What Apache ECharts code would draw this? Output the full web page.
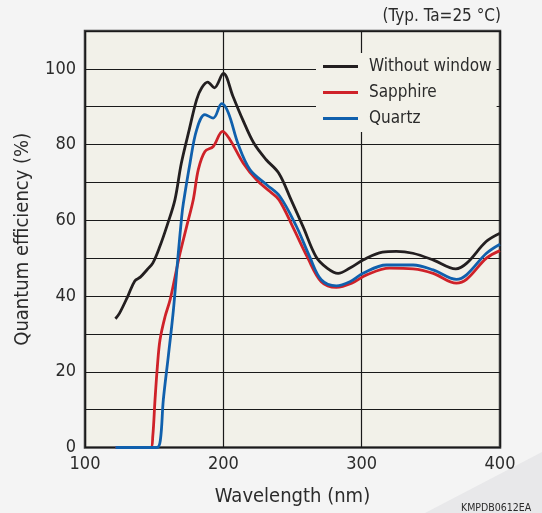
<!DOCTYPE html>
<html>
<head>
<meta charset="utf-8">
<script src="https://cdn.jsdelivr.net/npm/echarts@6/dist/echarts.min.js"></script>
<style>
html,body{margin:0;padding:0;background:#f4f4f4;}
#chart{width:542px;height:513px;}
</style>
</head>
<body>
<div id="chart"></div>
<script>
// ---- data ----
const seriesNames = ['Without window', 'Sapphire', 'Quartz'];
const xTicks = [100, 200, 300, 400];
const yTickLabels = [0, 20, 40, 60, 80, 100];

const nmWithout = [122,125,131,136,140,145,149,154,159.5,165,169.6,175.4,180.7,184.4,188.7,193.5,200,207,214,222,231,240,249,258,267,275,283,291.5,301,315,325,337,352,368,376,390,400];
const qeWithout = [34,35.5,40,44,45,47,48.7,53,58.8,65.4,75,84,91.9,95,96.5,95,98.8,92.7,86.6,80.4,76,72.5,65.4,58,50.4,47.4,46,47.4,49.5,51.6,51.8,51.3,49.5,47.2,48.7,54.4,56.6];

const nmSapphire = [122,147.5,149,150.6,152.3,154.2,157.9,161.5,165.1,168.7,173.5,178.3,181.9,186.7,192.7,199.5,204.8,214.4,224,233.7,240.3,250.3,261.1,270.8,281.7,292.8,303.5,320.2,337.2,351.7,368.5,375.8,390.2,400];
const qeSapphire = [0,0,3,12.5,21.3,28.4,34.6,39,45.1,51.3,58.4,65.5,73.4,78.2,79.5,83.5,81.3,75.1,70.7,67.6,65.4,58.2,50,43.8,42.3,43.4,45.6,47.4,47.2,46,43.4,44.4,50,52];

const nmQuartz = [122,152,154.5,156.6,160.2,163.9,167,169.9,171.1,175.9,180.7,186.7,192.7,198.8,203.6,210.8,219.2,231.3,240.9,252.7,262.4,270.8,281.7,291.5,301,317.9,337.2,351.7,368.5,375.8,390.2,400];
const qeQuartz = [0,0,2,12.5,24,36.3,49.5,61,64.5,75.1,83.9,87.9,87,90.8,88.4,80,73.4,69.4,66.3,58.5,50.4,44.3,42.7,43.8,46,48.2,48.2,46.9,44.4,45.6,51.3,53.7];

const colors = ['#231f20', '#cf2229', '#1060ad'];
const FONT = '"DejaVu Sans Condensed", "DejaVu Sans", sans-serif';
const TXT = '#2b2b2b';

function pairs(xs, ys){ return xs.map((x,i)=>[x, ys[i]]); }

const chart = echarts.init(document.getElementById('chart'), null, {renderer:'canvas'});
const option = {
  backgroundColor: '#f4f4f4',
  animation: false,
  textStyle: {fontFamily: FONT, color: TXT},
  grid: {left: 85, right: 42, top: 31, bottom: 65.5, show: true,
         backgroundColor: '#f2f1e9', borderColor: '#3c3c3c', borderWidth: 2.5},
  graphic: [
    {type:'polygon', z:-10, shape:{points:[[542,452],[542,513],[425,513]]},
     style:{fill:'#e8e8ea'}},
    {type:'text', right: 41, top: 8,
     style:{text:'(Typ. Ta=25 °C)', font:'17px ' + FONT, fill: TXT}},
    {type:'text', left: 461, top: 503,
     style:{text:'KMPDB0612EA', font:'10.5px ' + FONT, fill: TXT}}
  ],
  legend: {
    orient: 'vertical', left: 316, top: 53,
    data: seriesNames,
    icon: 'rect', itemWidth: 35, itemHeight: 3, itemGap: 9,
    backgroundColor: '#f2f1e9',
    padding: [5, 5, 5, 7],
    textStyle: {fontFamily: FONT, fontSize: 17, color: TXT, padding:[0,0,0,6]}
  },
  xAxis: {
    type: 'value', min: 100, max: 400, interval: 100,
    name: 'Wavelength (nm)', nameLocation: 'middle', nameGap: 39,
    nameTextStyle: {fontFamily: FONT, fontSize: 20, color: TXT},
    axisLine: {show: false}, axisTick: {show: false},
    axisLabel: {fontFamily: FONT, fontSize: 18, color: TXT, margin: 8,
      formatter: v => xTicks.includes(v) ? String(v) : ''},
    splitLine: {show: true, lineStyle: {color: '#1a1a1a', width: 1.2}}
  },
  yAxis: {
    type: 'value', min: 0, max: 110, interval: 10,
    name: 'Quantum efficiency (%)', nameLocation: 'middle', nameGap: 52,
    nameTextStyle: {fontFamily: FONT, fontSize: 20, color: TXT},
    axisLine: {show: false}, axisTick: {show: false},
    axisLabel: {fontFamily: FONT, fontSize: 18, color: TXT, margin: 9,
      formatter: v => yTickLabels.includes(v) ? String(v) : ''},
    splitLine: {show: true, lineStyle: {color: '#1a1a1a', width: 1.2}}
  },
  series: [
    {name: seriesNames[0], type: 'line', data: pairs(nmWithout, qeWithout)},
    {name: seriesNames[1], type: 'line', data: pairs(nmSapphire, qeSapphire)},
    {name: seriesNames[2], type: 'line', data: pairs(nmQuartz, qeQuartz)}
  ].map((s, i) => Object.assign(s, {
    showSymbol: false, smooth: 0.35, z: 3 + i,
    color: colors[i],
    lineStyle: {color: colors[i], width: 2.8}
  }))
};
chart.setOption(option);
</script>
</body>
</html>
